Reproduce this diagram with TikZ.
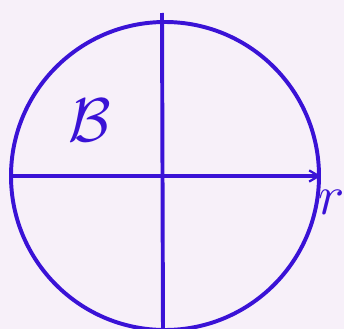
\RequirePackage{fix-cm}
\documentclass[tikz,border=0pt]{standalone}
\usepackage{amsmath, amssymb}
\usepackage{xcolor}
\usetikzlibrary{arrows.meta, positioning}
\definecolor{tinta}{HTML}{3A12D6}
\definecolor{papel}{HTML}{F7F0F9}

\begin{document}
\begin{tikzpicture}[
            x=0.025cm, y=-0.025cm,              % coordenadas en pixeles de la imagen
            trazo/.style={
                draw=tinta,
                line width=2.8pt
            },
            disco/.style={
                circle,
                trazo,
                minimum size=308*0.025cm,
                inner sep=0pt
            },
            radio/.style={
                trazo,
                -{Straight Barb[length=2.4mm, width=2.8mm, line width=1.6pt]}
            },
            etiqueta/.style={
                text=tinta,
                inner sep=0pt
            }
        ]
            % --- FONDO ---
            \fill[papel] (0,0) rectangle (344,329);
            \useasboundingbox (0,0) rectangle (344,329);

            % --- NODOS ---
            \node [disco] (bola) at (165,176) {};
            \coordinate (centro) at (162,176);
            \coordinate (arriba) at (162,13);
            \coordinate (abajo) at (163,332);

            \node [etiqueta, font=\fontsize{44}{44}\selectfont] (letra_b) at (90,120) {$\mathcal{B}$};
            \node [etiqueta, font=\fontsize{40}{40}\selectfont] (letra_r) at (332,202) {$r$};

            % --- EJES ---
            \path [trazo] (arriba) -- (abajo);
            \path [trazo] (bola.west) -- (centro);
            \path [radio] (centro) -- (bola.east);
        \end{tikzpicture}
\end{document}
